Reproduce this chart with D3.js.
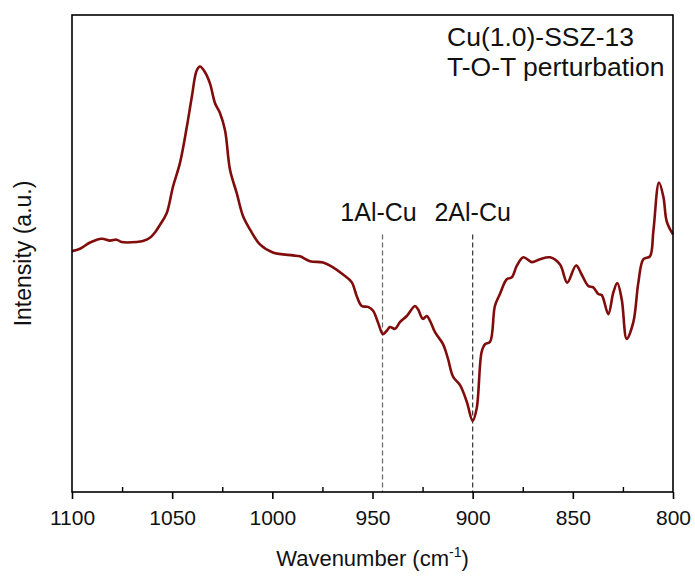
<!DOCTYPE html>
<html>
<head>
<meta charset="utf-8">
<script src="https://cdn.jsdelivr.net/npm/d3@7"></script>
<style>
  html, body { margin: 0; padding: 0; background: #fff; }
  svg { display: block; font-family: "Liberation Sans", Arial, sans-serif; }
</style>
</head>
<body>
<svg id="chart" width="695" height="581"></svg>
<script>
// Spectrum: wavenumber (cm-1) and intensity (a.u., arbitrary 0-100 scale)
const wavenumber = [1100, 1096.0, 1091.0, 1085.2, 1081.0, 1077.7, 1075.2, 1067.7, 1064.6, 1061.1,
  1058.6, 1056.1, 1052.7, 1049.6, 1046.1, 1042.7, 1040.2, 1037.8, 1036.1, 1033.6,
  1031.1, 1028.6, 1026.1, 1023.6, 1021.1, 1017.8, 1014.6, 1011.1, 1006.2, 999.7,
  989.7, 986.2, 981.2, 974.7, 969.7, 964.7, 960.4, 957.9, 955.4, 952.2,
  949.7, 947.3, 944.8, 942.9, 941.3, 938.8, 936.3, 932.9, 928.8, 927.3,
  924.8, 922.9, 921.3, 918.8, 914.8, 912.3, 909.8, 906.3, 903.0, 900.0,
  898.0, 895.5, 893.8, 891.3, 888.9, 886.4, 883.0, 880.5, 878.0, 874.7,
  870.5, 866.4, 861.4, 856.4, 852.8, 848.4, 845.6, 842.3, 839.8, 837.3,
  835.6, 832.3, 829.8, 827.8, 825.6, 823.1, 819.8, 817.3, 814.8, 811.5,
  809.8, 807.0, 804.8, 803.1, 800];
const intensity = [50.5, 51.0, 52.3, 53.1, 52.7, 52.9, 52.4, 52.4, 52.6, 53.3,
  54.4, 56.0, 58.5, 64.0, 69.0, 76.5, 82.8, 88.3, 89.2, 88.0,
  85.6, 81.5, 79.4, 75.8, 67.5, 62.7, 57.8, 55.0, 51.9, 50.2,
  49.6, 49.4, 48.4, 48.1, 47.1, 45.6, 44.0, 41.1, 39.0, 38.8,
  38.0, 35.6, 33.1, 33.8, 34.6, 34.2, 35.6, 36.9, 39.0, 38.3,
  36.3, 36.9, 35.9, 33.5, 31.0, 27.9, 24.2, 22.4, 19.0, 14.9,
  17.5, 29.4, 31.0, 31.5, 39.0, 41.5, 44.6, 45.0, 47.4, 49.2,
  48.2, 48.8, 49.2, 47.7, 43.9, 47.5, 45.6, 43.2, 42.9, 41.5,
  41.3, 37.3, 41.8, 43.8, 40.4, 32.1, 35.6, 43.9, 48.8, 49.4,
  54.7, 64.9, 61.9, 56.7, 54.0];

const xTicks = [1100, 1050, 1000, 950, 900, 850, 800];
const xMinorTicks = [1075, 1025, 975, 925, 875, 825];
const markerPositions = [945, 900];
const markerLabels = ["1Al-Cu", "2Al-Cu"];
const titleLines = ["Cu(1.0)-SSZ-13", "T-O-T perturbation"];

const svg = d3.select("#chart");
const margin = { left: 72, right: 22, top: 15, bottom: 89 };
const W = 695, H = 581;
const x0 = margin.left, x1 = W - margin.right, y0 = H - margin.bottom, y1 = margin.top;

const x = d3.scaleLinear().domain([1100, 800]).range([x0, x1]);
const y = d3.scaleLinear().domain([0, 100]).range([y0, y1]);

const data = wavenumber.map((w, i) => ({ w, v: intensity[i] }));

// dashed marker lines
markerPositions.forEach((m, i) => {
  svg.append("line")
    .attr("x1", x(m)).attr("x2", x(m))
    .attr("y1", y(54)).attr("y2", y0)
    .attr("stroke", i === 0 ? "#666" : "#333")
    .attr("stroke-width", 1.2)
    .attr("stroke-dasharray", "5,3");
  svg.append("text")
    .attr("x", x(m) - (i === 0 ? 4 : 0)).attr("y", y(56.8))
    .attr("text-anchor", "middle")
    .attr("font-size", 25)
    .attr("fill", "#111")
    .text(markerLabels[i]);
});

// spectrum line
const line = d3.line().x(d => x(d.w)).y(d => y(d.v)).curve(d3.curveCatmullRom.alpha(0.5));
svg.append("path")
  .datum(data)
  .attr("d", line)
  .attr("fill", "none")
  .attr("stroke", "#800c0c")
  .attr("stroke-width", 2.6)
  .attr("stroke-linejoin", "round");

// frame
svg.append("rect")
  .attr("x", x0).attr("y", y1)
  .attr("width", x1 - x0).attr("height", y0 - y1)
  .attr("fill", "none").attr("stroke", "#000").attr("stroke-width", 1.6);

// x axis
const xAxis = d3.axisBottom(x).tickValues(xTicks).tickSize(7).tickPadding(11).tickFormat(d3.format("d"));
const gx = svg.append("g").attr("transform", `translate(0,${y0})`).call(xAxis);
gx.select(".domain").remove();
gx.selectAll(".tick line").attr("stroke", "#000").attr("stroke-width", 1.6);
gx.selectAll(".tick text").attr("font-size", 21).attr("fill", "#111")
  .attr("font-family", "'Liberation Sans', Arial, sans-serif");

const xMinor = d3.axisTop(x).tickValues(xMinorTicks).tickSize(5).tickFormat("");
const gxm = svg.append("g").attr("transform", `translate(0,${y0})`).call(xMinor);
gxm.select(".domain").remove();
gxm.selectAll(".tick line").attr("stroke", "#000").attr("stroke-width", 1.4);

// axis titles
const xt = svg.append("text")
  .attr("x", (x0 + x1) / 2).attr("y", 566)
  .attr("text-anchor", "middle").attr("font-size", 22).attr("fill", "#111");
xt.append("tspan").text("Wavenumber (cm");
xt.append("tspan").attr("font-size", 14).attr("dy", -9).text("-1");
xt.append("tspan").attr("dy", 9).text(")");

svg.append("text")
  .attr("transform", `translate(31,${(y0 + y1) / 2}) rotate(-90)`)
  .attr("text-anchor", "middle").attr("font-size", 23).attr("fill", "#111")
  .text("Intensity (a.u.)");

// title annotation
titleLines.forEach((t, i) => {
  svg.append("text")
    .attr("x", 447).attr("y", 46 + i * 30)
    .attr("font-size", 26.5).attr("fill", "#111")
    .text(t);
});
</script>
</body>
</html>
